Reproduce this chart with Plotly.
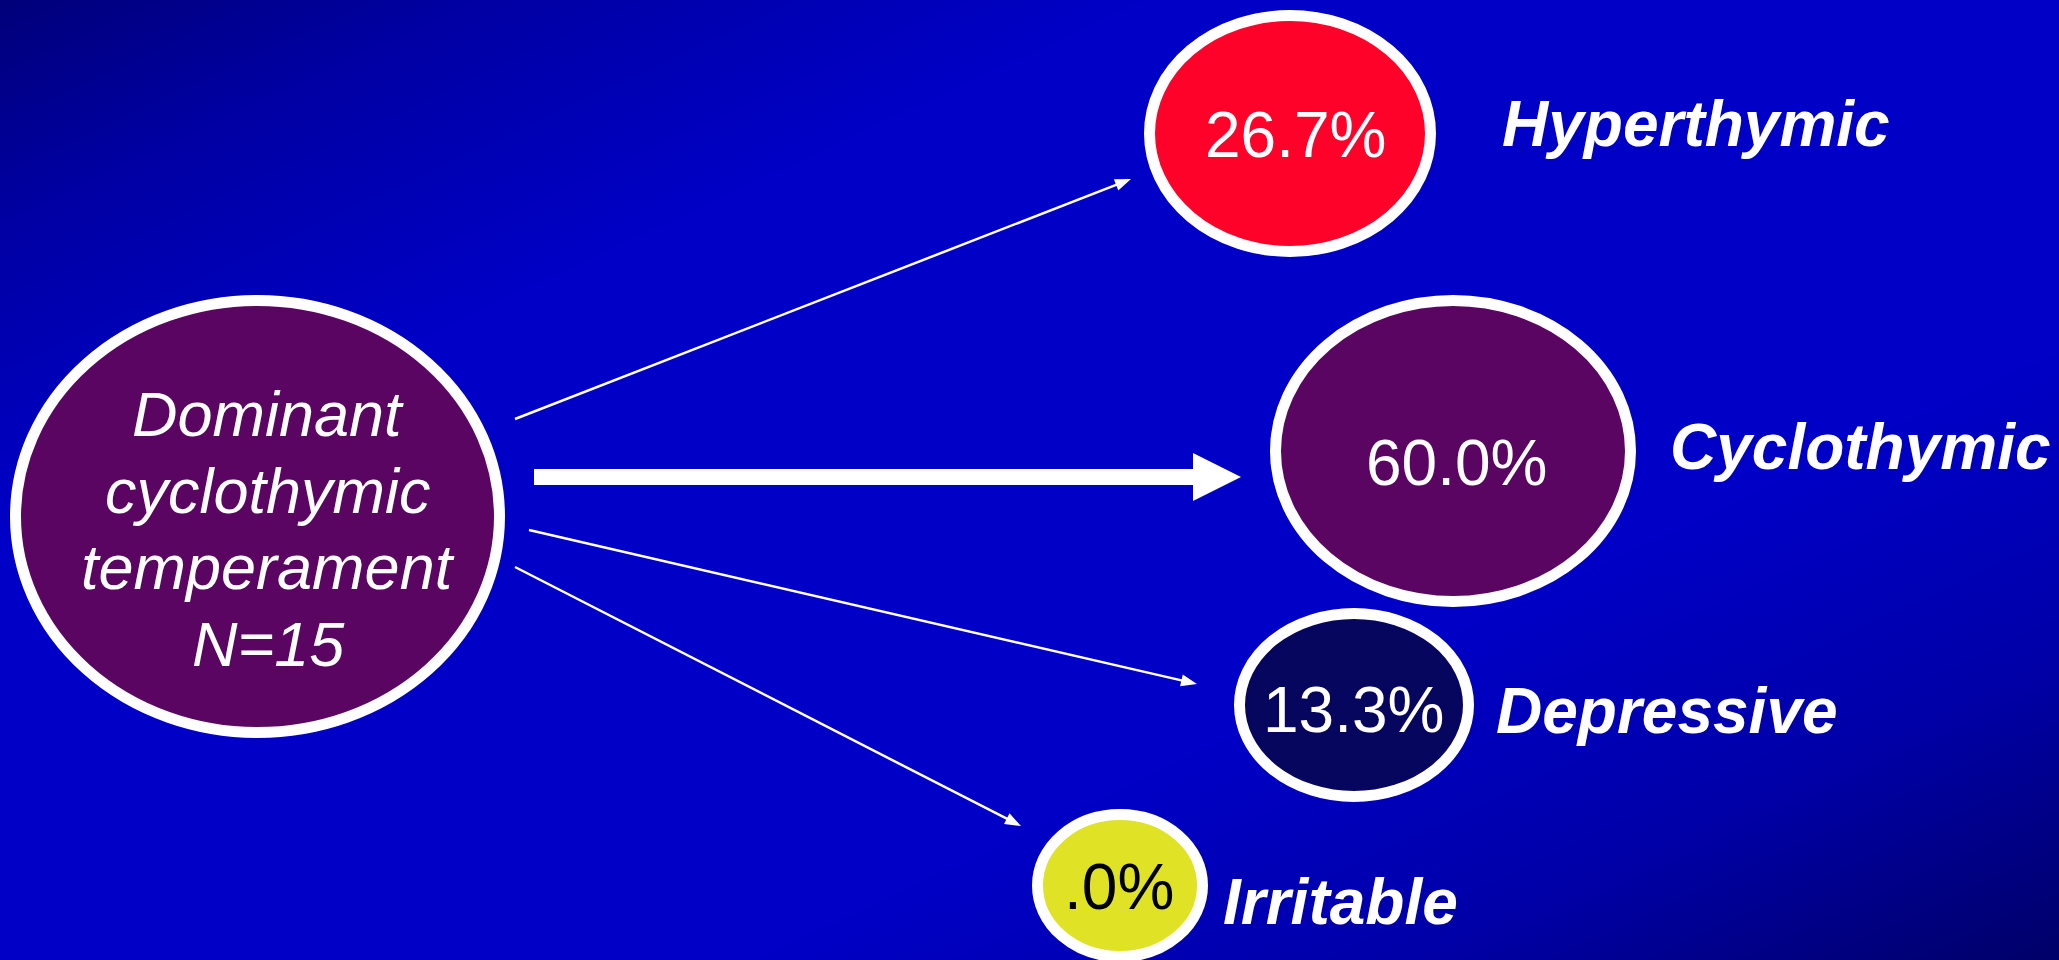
import numpy as np
import plotly.graph_objects as go

W, H = 2059, 960

# Outcome groups and their shares (%) for patients with a dominant cyclothymic temperament
temperaments = ["Hyperthymic", "Cyclothymic", "Depressive", "Irritable"]
percentages = [26.7, 60.0, 13.3, 0.0]
source_label = ["Dominant", "cyclothymic", "temperament"]
n_patients = 15

# Layout of the diagram (pixel space, y grows downward)
node_boxes = {  # outer x0, x1, y0, y1 of each bubble
    "source": (10, 505, 295, 738),
    "Hyperthymic": (1144, 1436, 10, 257),
    "Cyclothymic": (1270, 1636, 295, 607),
    "Depressive": (1234, 1474, 608, 802),
    "Irritable": (1032, 1208, 809, 962),
}
node_fill = {
    "source": "#5B0562",
    "Hyperthymic": "#FF0229",
    "Cyclothymic": "#5B0562",
    "Depressive": "#06065E",
    "Irritable": "#E0E225",
}
value_text_color = {"Hyperthymic": "white", "Cyclothymic": "white",
                    "Depressive": "white", "Irritable": "black"}
value_pos = {"Hyperthymic": (1295, 135), "Cyclothymic": (1456, 463),
             "Depressive": (1353, 710), "Irritable": (1119, 887)}
name_pos = {"Hyperthymic": (1500, 124), "Cyclothymic": (1668, 447),
            "Depressive": (1494, 711), "Irritable": (1221, 902)}
source_x, source_y0, source_dy = 268, 414, 76.5
arrow_geom = {  # start, tip, shaft width, head length, head width
    "Hyperthymic": ((515, 419), (1131, 179), 2.5, 16, 12),
    "Cyclothymic": ((534, 477), (1241, 477), 16, 48, 48),
    "Depressive": ((529, 530), (1197, 684), 2.5, 16, 12),
    "Irritable": ((515, 567), (1021, 826), 2.5, 16, 12),
}
BORDER = 11
FONT = "Liberation Sans, Arial, Helvetica, sans-serif"

fig = go.Figure()

# Diagonal backdrop: dark navy in the top-left and bottom-right corners
gx = np.linspace(0, W, 60)
gy = np.linspace(0, H, 40)
GX, GY = np.meshgrid(gx, gy)
fig.add_trace(go.Heatmap(
    x=gx, y=gy, z=(GX / W + GY / H) / 2,
    colorscale=[[0.0, "#00007A"], [0.12, "#0000A4"], [0.28, "#0000C6"],
                [0.68, "#0000C6"], [0.84, "#0000A8"], [1.0, "#000068"]],
    zsmooth="best", showscale=False, hoverinfo="skip",
))

shapes = []


def bubble(key):
    x0, x1, y0, y1 = node_boxes[key]
    h = BORDER / 2
    shapes.append(dict(type="circle", xref="x", yref="y",
                       x0=x0 + h, x1=x1 - h, y0=y0 + h, y1=y1 - h,
                       fillcolor=node_fill[key],
                       line=dict(color="white", width=BORDER), layer="above"))


def arrow(start, tip, shaft, head_len, head_w):
    (sx, sy), (tx, ty) = start, tip
    dx, dy = tx - sx, ty - sy
    L = np.hypot(dx, dy)
    ux, uy = dx / L, dy / L
    px, py = -uy, ux
    bx, by = tx - ux * head_len, ty - uy * head_len
    s = shaft / 2
    pts = [(sx + px * s, sy + py * s), (bx + px * s, by + py * s),
           (bx + px * head_w / 2, by + py * head_w / 2), (tx, ty),
           (bx - px * head_w / 2, by - py * head_w / 2),
           (bx - px * s, by - py * s), (sx - px * s, sy - py * s)]
    path = "M " + " L ".join(f"{x:.2f},{y:.2f}" for x, y in pts) + " Z"
    shapes.append(dict(type="path", path=path, xref="x", yref="y",
                       fillcolor="white", line=dict(width=0), layer="above"))


bubble("source")
for name in temperaments:
    arrow(*arrow_geom[name])
    bubble(name)

annotations = []
for i, line in enumerate(source_label + [f"N={n_patients}"]):
    annotations.append(dict(
        x=source_x, y=source_y0 + i * source_dy, xref="x", yref="y",
        text=line, showarrow=False, xanchor="center", yanchor="middle",
        font=dict(family=FONT, size=63, color="white", style="italic"),
    ))

for name, pct in zip(temperaments, percentages):
    vx, vy = value_pos[name]
    annotations.append(dict(
        x=vx, y=vy, xref="x", yref="y", text=f"{pct:.1f}%".lstrip("0"),
        showarrow=False, xanchor="center", yanchor="middle",
        font=dict(family=FONT, size=64, color=value_text_color[name]),
    ))
    nx, ny = name_pos[name]
    annotations.append(dict(
        x=nx, y=ny, xref="x", yref="y", text=name,
        showarrow=False, xanchor="left", yanchor="middle",
        font=dict(family=FONT, size=64, color="white",
                  style="italic", weight="bold"),
    ))

fig.update_layout(
    width=W, height=H,
    margin=dict(l=0, r=0, t=0, b=0),
    paper_bgcolor="#0000C6", plot_bgcolor="#0000C6",
    xaxis=dict(range=[0, W], visible=False, fixedrange=True),
    yaxis=dict(range=[H, 0], visible=False, fixedrange=True),
    shapes=shapes, annotations=annotations, showlegend=False,
)

fig.write_html("out.html", config={"displayModeBar": False})
